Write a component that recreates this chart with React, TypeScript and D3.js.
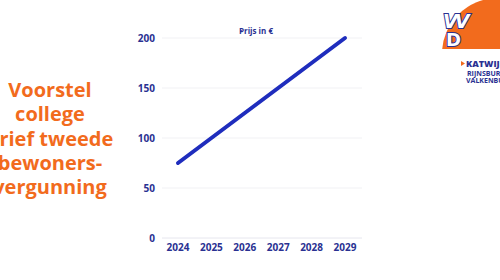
import React from "react";
import * as d3 from "d3";

const years = ["2024", "2025", "2026", "2027", "2028", "2029"];
const prices = [75, 100, 125, 150, 175, 200];
const yTicks = [0, 50, 100, 150, 200];
const titleLines = ["Voorstel", "college", "brief tweede", "bewoners-", "vergunning"];
const seriesName = "Prijs in €";
const logoLines = ["KATWIJK", "RIJNSBURG", "VALKENBURG"];

const W = 500;
const H = 280;
const ORANGE = "#f26b1d";
const BLUE = "#2a3192";
const LINE = "#1f2dbd";

export default function App() {
  const x = d3.scalePoint<string>().domain(years).range([178, 345]);
  const y = d3.scaleLinear().domain([0, 200]).range([238, 38]);
  const line = d3
    .line<number>()
    .x((_, i) => x(years[i]) as number)
    .y((d) => y(d));

  return (
    <svg
      width={W}
      height={H}
      style={{ position: "absolute", left: 0, top: 0, background: "#fff" }}
      fontFamily="'Open Sans', sans-serif"
    >
      <rect width={W} height={H} fill="#fff" />
      {/* left title */}
      <g fill={ORANGE} fontWeight={700} fontSize={20} textAnchor="middle">
        {titleLines.map((t, i) => (
          <text key={t} x={50} y={97 + i * 24.3}>
            {t}
          </text>
        ))}
      </g>
      {/* gridlines */}
      <g>
        {yTicks.map((t) => (
          <line
            key={t}
            x1={162}
            x2={362}
            y1={y(t)}
            y2={y(t)}
            stroke={t === 0 ? "#e6e6ee" : "#f1f1f4"}
            strokeWidth={1}
          />
        ))}
      </g>
      {/* y labels */}
      <g fill={BLUE} fontWeight={700} fontSize={10} textAnchor="end">
        {yTicks.map((t) => (
          <text key={t} x={155} y={y(t)} dy="0.35em">
            {t}
          </text>
        ))}
      </g>
      {/* x labels */}
      <g fill={BLUE} fontWeight={700} fontSize={10} textAnchor="middle">
        {years.map((yr) => (
          <text key={yr} x={x(yr)} y={251}>
            {yr}
          </text>
        ))}
      </g>
      {/* legend title */}
      <line x1={240} x2={242} y1={31} y2={31} stroke={LINE} strokeWidth={1.5} />
      <text x={256} y={34} fontSize={8} fontWeight={700} fill={BLUE} textAnchor="middle">
        {seriesName}
      </text>
      {/* series line */}
      <path
        d={line(prices) || ""}
        fill="none"
        stroke={LINE}
        strokeWidth={4}
        strokeLinecap="round"
        strokeLinejoin="round"
      />
      {/* logo */}
      <g>
        <clipPath id="half">
          <rect x={430} y={0} width={70} height={49} />
        </clipPath>
        <circle cx={498} cy={54} r={56} fill={ORANGE} clipPath="url(#half)" />
        <g
          fontWeight={900}
          fontFamily="'DejaVu Sans', sans-serif"
          fill="#fff"
          stroke={BLUE}
          strokeWidth={2}
          style={{ paintOrder: "stroke" }}
        >
          <text x={443} y={28} fontSize={19} fontStyle="italic" letterSpacing={-3}>VV</text>
          <text x={446} y={46} fontSize={18}>D</text>
        </g>
        <path d="M461,61 L465,63.5 L461,66 Z" fill={ORANGE} />
        <text x={466} y={67} fontSize={9} fontWeight={800} fill={BLUE}>{logoLines[0]}</text>
        <text x={467} y={76} fontSize={7} fontWeight={700} fill={BLUE}>{logoLines[1]}</text>
        <text x={466} y={83} fontSize={7} fontWeight={700} fill={BLUE}>{logoLines[2]}</text>
      </g>
    </svg>
  );
}
